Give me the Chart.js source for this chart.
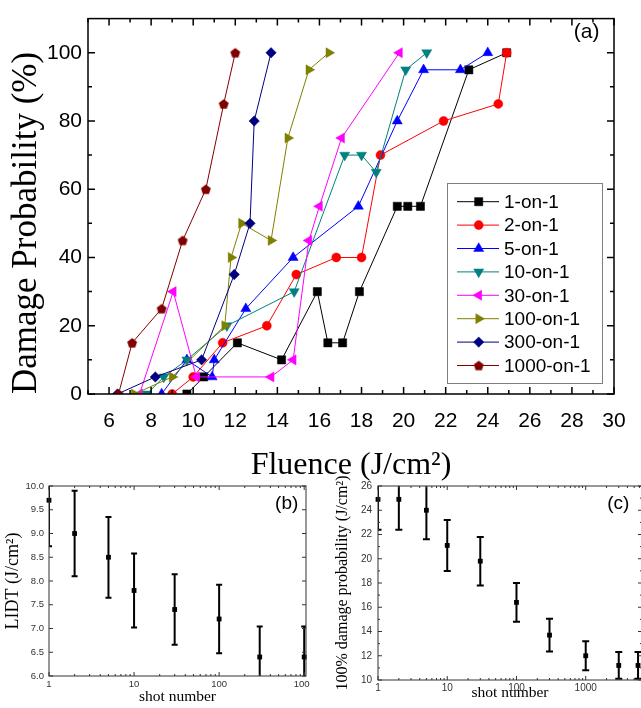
<!DOCTYPE html>
<html><head><meta charset="utf-8">
<script src="https://cdn.jsdelivr.net/npm/chart.js@4/dist/chart.umd.min.js"></script>
<style>
html,body{margin:0;padding:0;background:#fff;overflow:hidden;width:641px;height:708px;position:relative;}
canvas{position:absolute;}
</style></head><body>
<canvas id="ca" width="641" height="490" style="left:0px;top:0px"></canvas>
<canvas id="cb" width="310" height="238" style="left:0px;top:470px"></canvas>
<canvas id="cc" width="330" height="238" style="left:318px;top:470px"></canvas>
<script>
// ---------- DATA: panel (a) ----------
const seriesLabels = ['1-on-1','2-on-1','5-on-1','10-on-1','30-on-1','100-on-1','300-on-1','1000-on-1'];
const oneX = [9.7,10.5,12.1,14.2,15.9,16.4,17.1,17.9,19.7,20.2,20.8,23.1,24.9];
const oneY = [0,5,15,10,30,15,15,30,55,55,55,95,100];
const twoX = [9.0,10.0,11.4,13.5,14.9,16.8,18.0,18.9,21.9,24.5,24.9];
const twoY = [0,5,15,20,35,40,40,70,80,85,100];
const fiveX = [8.5,9.7,10.9,11.0,12.5,14.75,17.85,19.7,20.95,22.7,24.0];
const fiveY = [0,10,5,10,25,40,55,80,95,95,100];
const tenX = [7.8,8.6,9.7,11.6,14.8,17.2,18.0,18.7,20.1,21.1];
const tenY = [0,5,10,20,30,70,70,65,95,100];
const thirtyX = [7.45,9.05,10.15,13.7,14.75,15.5,16.0,17.05,19.8];
const thirtyY = [0,30,5,5,10,45,55,75,100];
const hundredX = [7.2,9.0,11.5,11.8,12.3,13.7,14.5,15.5,16.45];
const hundredY = [0,5,20,40,50,45,75,95,100];
const threeHX = [6.4,8.2,10.4,11.95,12.7,12.9,13.7];
const threeHY = [0,5,10,35,50,80,100];
const thousandX = [6.45,7.1,8.5,9.5,10.6,11.45,12.0];
const thousandY = [0,15,25,45,60,85,100];
const aXTicks = [6,8,10,12,14,16,18,20,22,24,26,28,30];
const aXMinor = [5,7,9,11,13,15,17,19,21,23,25,27,29];
const aYTicks = [0,20,40,60,80,100];
const aYMinor = [10,30,50,70,90];

// ---------- DATA: panel (b) ----------
const bShots = [1,2,5,10,30,100,300,1000];
const bLIDT  = [9.7,9.0,8.5,7.8,7.4,7.2,6.4,6.4];
const bErr   = [0.97,0.9,0.85,0.78,0.74,0.72,0.64,0.64];
const bXTicks = [1,10,100,1000];
const bYTicks = [6.0,6.5,7.0,7.5,8.0,8.5,9.0,9.5,10.0];

// ---------- DATA: panel (c) ----------
const cShots = [1,2,5,10,30,100,300,1000,3000,5700];
const cFull  = [24.9,24.9,24.0,21.1,19.8,16.4,13.7,12.0,11.2,11.2];
const cErr   = [2.5,2.5,2.4,2.1,2.0,1.6,1.35,1.2,1.1,1.1];
const cXTicks = [1,10,100,1000];
const cYTicks = [10,12,14,16,18,20,22,24,26];
const cYMinor = [11,13,15,17,19,21,23,25];
const logMinor = [2,3,4,5,6,7,8,9,20,30,40,50,60,70,80,90,200,300,400,500,600,700,800,900,2000,3000,4000,5000,6000];

// ---------- helpers ----------
const SANS = '"Liberation Sans", Arial, sans-serif';
const SERIF = '"Liberation Serif", "Times New Roman", serif';

function pentagonImage(r, color){
  const s = Math.ceil(2*r+3);
  const c = document.createElement('canvas'); c.width = s; c.height = s;
  const g = c.getContext('2d');
  g.fillStyle = color; g.beginPath();
  for (let k=0;k<5;k++){
    const a = -Math.PI/2 + k*2*Math.PI/5;
    const px = s/2 + r*Math.cos(a), py = s/2 + r*Math.sin(a) + r*0.1;
    if (k===0) g.moveTo(px,py); else g.lineTo(px,py);
  }
  g.closePath(); g.fill();
  return c;
}

function framePlugin(cfg){
  return {
    id: 'frame',
    afterDatasetsDraw(chart){
      const {ctx, chartArea:a, scales} = chart;
      const x = scales.x, y = scales.y;
      ctx.save();
      ctx.strokeStyle = cfg.color; ctx.lineWidth = cfg.width;
      ctx.beginPath();
      const doX = (vals,len)=>{ vals.forEach(v=>{ const p = x.getPixelForValue(v);
        if (p < a.left-0.5 || p > a.right+0.5) return;
        ctx.moveTo(p,a.bottom); ctx.lineTo(p,a.bottom-len);
        ctx.moveTo(p,a.top); ctx.lineTo(p,a.top+len); }); };
      const doY = (vals,len)=>{ vals.forEach(v=>{ const p = y.getPixelForValue(v);
        if (p < a.top-0.5 || p > a.bottom+0.5) return;
        ctx.moveTo(a.left,p); ctx.lineTo(a.left+len,p);
        ctx.moveTo(a.right,p); ctx.lineTo(a.right-len,p); }); };
      doX(cfg.xMajor, cfg.majorLen); doX(cfg.xMinor, cfg.minorLen);
      doY(cfg.yMajor, cfg.majorLen); doY(cfg.yMinor, cfg.minorLen);
      ctx.stroke();
      ctx.strokeRect(a.left, a.top, a.right-a.left, a.bottom-a.top);
      ctx.restore();
    }
  };
}

function labelPlugin(text, px, py, size){
  return { id:'panelLabel', afterDraw(chart){
    const ctx = chart.ctx; ctx.save();
    ctx.font = size+'px '+SANS; ctx.fillStyle = '#000';
    ctx.textAlign = 'center'; ctx.textBaseline = 'middle';
    ctx.fillText(text, px, py); ctx.restore();
  }};
}

function errPlugin(xs, ys, errs, capHalf, lw){
  return { id:'errbars', beforeDatasetsDraw(chart){
    const {ctx, chartArea:a, scales:{x,y}} = chart;
    ctx.save();
    ctx.beginPath(); ctx.rect(a.left, a.top, a.right-a.left, a.bottom-a.top); ctx.clip();
    ctx.strokeStyle = '#000'; ctx.lineWidth = lw;
    ctx.beginPath();
    xs.forEach((xv,k)=>{
      const px = x.getPixelForValue(xv);
      const pt = y.getPixelForValue(ys[k]+errs[k]);
      const pb = y.getPixelForValue(ys[k]-errs[k]);
      ctx.moveTo(px,pt); ctx.lineTo(px,pb);
      ctx.moveTo(px-capHalf,pt); ctx.lineTo(px+capHalf,pt);
      ctx.moveTo(px-capHalf,pb); ctx.lineTo(px+capHalf,pb);
    });
    ctx.stroke(); ctx.restore();
  }};
}

// ---------- panel (a) ----------
const colors = ['#000000','#ff0000','#0000ff','#008080','#ff00ff','#808000','#000080','#800000'];
const xsAll = [oneX,twoX,fiveX,tenX,thirtyX,hundredX,threeHX,thousandX];
const ysAll = [oneY,twoY,fiveY,tenY,thirtyY,hundredY,threeHY,thousandY];
const pent = pentagonImage(5.2, colors[7]);
const pStyles = ['rect','circle','triangle','triangle','triangle','triangle','rectRot',pent];
const pRot = [0,0,0,180,270,90,0,0];
const pRad = [5.8,4.5,5.8,5.8,5.8,5.8,5.2,5.2];

const datasetsA = seriesLabels.map((lab,i)=>({
  label: lab,
  data: xsAll[i].map((v,k)=>({x:v, y:ysAll[i][k]})),
  showLine: true,
  borderColor: colors[i], backgroundColor: colors[i],
  pointBorderColor: colors[i], pointBackgroundColor: colors[i],
  borderWidth: 1, pointBorderWidth: 0.5,
  pointStyle: pStyles[i], pointRotation: pRot[i], pointRadius: pRad[i],
  order: -i
}));

const legendPlugin = { id:'customLegend', afterDraw(chart){
  const ctx = chart.ctx; ctx.save();
  ctx.fillStyle = '#fff'; ctx.fillRect(447.5,183.5,155,200);
  ctx.strokeStyle = '#7f7f7f'; ctx.lineWidth = 1; ctx.strokeRect(447.5,183.5,155,200);
  chart.data.datasets.forEach((ds,i)=>{
    const yy = 201.7 + i*23.4;
    ctx.strokeStyle = ds.borderColor; ctx.lineWidth = 1;
    ctx.beginPath(); ctx.moveTo(457,yy); ctx.lineTo(499,yy); ctx.stroke();
    ctx.fillStyle = ds.backgroundColor; ctx.strokeStyle = ds.borderColor; ctx.lineWidth = 0.5;
    Chart.helpers.drawPoint(ctx, {pointStyle: ds.pointStyle, rotation: ds.pointRotation, radius: ds.pointRadius, borderWidth: 0.5}, 478.7, yy);
    ctx.fillStyle = '#000'; ctx.font = '19px '+SANS; ctx.textAlign = 'left'; ctx.textBaseline = 'middle';
    ctx.fillText(ds.label, 504, yy+1);
  });
  ctx.restore();
}};

new Chart(document.getElementById('ca'), {
  type: 'scatter',
  data: { datasets: datasetsA },
  options: {
    responsive: false, animation: false, devicePixelRatio: 1,
    layout: { padding: { left: 0, right: 27, top: 8, bottom: 0 } },
    plugins: { legend: {display:false}, tooltip: {enabled:false} },
    scales: {
      x: { type:'linear', min:5, max:30,
        afterBuildTicks: s => { s.ticks = aXTicks.map(v=>({value:v})); },
        afterFit: s => { s.height = 96; },
        grid: {display:false, drawTicks:false}, border: {display:false},
        ticks: { font:{family:SANS,size:21}, color:'#000', padding:15, maxRotation:0, autoSkip:false },
        title: { display:true, text:'Fluence (J/cm²)', color:'#000', font:{family:SERIF,size:32,lineHeight:1}, padding:{top:0,bottom:8} }
      },
      y: { type:'linear', min:0, max:110,
        afterBuildTicks: s => { s.ticks = aYTicks.map(v=>({value:v})); },
        afterFit: s => { s.width = 88; },
        grid: {display:false, drawTicks:false}, border: {display:false},
        ticks: { font:{family:SANS,size:21}, color:'#000', padding:6, autoSkip:false },
        title: { display:true, text:'Damage Probability (%)', align:'start', color:'#000', font:{family:SERIF,size:35,lineHeight:1}, padding:{top:9,bottom:0} }
      }
    }
  },
  plugins: [
    framePlugin({color:'#000', width:1.5, majorLen:7, minorLen:4, xMajor:aXTicks, xMinor:aXMinor, yMajor:aYTicks, yMinor:aYMinor}),
    legendPlugin,
    labelPlugin('(a)', 586.7, 32.7, 21)
  ]
});

// ---------- panel (b) ----------
new Chart(document.getElementById('cb'), {
  type: 'scatter',
  data: { datasets: [{ label:'LIDT', data: bShots.map((v,k)=>({x:v,y:bLIDT[k]})),
    pointStyle:'rect', pointRadius:3.4, backgroundColor:'#000', borderColor:'#000', pointBorderWidth:0, clip:false }] },
  options: {
    responsive:false, animation:false, devicePixelRatio:1,
    layout: { padding: { left:0, right:3, top:16, bottom:0 } },
    plugins: { legend:{display:false}, tooltip:{enabled:false} },
    scales: {
      x: { type:'logarithmic', min:1, max:1050,
        afterBuildTicks: s => { s.ticks = bXTicks.map(v=>({value:v})); },
        afterFit: s => { s.height = 32; s.paddingRight = 0; s.paddingLeft = 0; },
        grid:{display:false, drawTicks:false}, border:{display:false},
        ticks:{ font:{family:SANS,size:9.5}, color:'#333', padding:3, maxRotation:0, autoSkip:false, callback: v => String(v) },
        title:{ display:true, text:'shot number', color:'#000', font:{family:SERIF,size:15.5,lineHeight:1}, padding:{top:0,bottom:3} }
      },
      y: { type:'linear', min:6, max:10,
        afterBuildTicks: s => { s.ticks = bYTicks.map(v=>({value:v})); },
        afterFit: s => { s.width = 49; s.paddingTop = 0; s.paddingBottom = 0; },
        grid:{display:false, drawTicks:false}, border:{display:false},
        ticks:{ font:{family:SANS,size:9.5}, color:'#333', padding:5, autoSkip:false, callback: v => Number(v).toFixed(1) },
        title:{ display:true, text:'LIDT (J/cm²)', color:'#000', font:{family:SERIF,size:18,lineHeight:1}, padding:{top:4,bottom:0} }
      }
    }
  },
  plugins: [
    errPlugin(bShots, bLIDT, bErr, 3, 2),
    framePlugin({color:'#333', width:1, majorLen:4, minorLen:2, xMajor:bXTicks, xMinor:logMinor, yMajor:bYTicks, yMinor:[]}),
    labelPlugin('(b)', 286.7, 33.3, 19)
  ]
});

// ---------- panel (c) ----------
new Chart(document.getElementById('cc'), {
  type: 'scatter',
  data: { datasets: [{ label:'100%', data: cShots.map((v,k)=>({x:v,y:cFull[k]})),
    pointStyle:'rect', pointRadius:3.4, backgroundColor:'#000', borderColor:'#000', pointBorderWidth:0, clip:false }] },
  options: {
    responsive:false, animation:false, devicePixelRatio:1,
    layout: { padding: { left:0, right:6, top:16, bottom:0 } },
    plugins: { legend:{display:false}, tooltip:{enabled:false} },
    scales: {
      x: { type:'logarithmic', min:1, max:6500,
        afterBuildTicks: s => { s.ticks = cXTicks.map(v=>({value:v})); },
        afterFit: s => { s.height = 28; s.paddingRight = 0; s.paddingLeft = 0; },
        grid:{display:false, drawTicks:false}, border:{display:false},
        ticks:{ font:{family:SANS,size:10}, color:'#333', padding:2, maxRotation:0, autoSkip:false, callback: v => String(v) },
        title:{ display:true, text:'shot number', color:'#000', font:{family:SERIF,size:15.5,lineHeight:1}, padding:{top:0,bottom:7} }
      },
      y: { type:'linear', min:10, max:26,
        afterBuildTicks: s => { s.ticks = cYTicks.map(v=>({value:v})); },
        afterFit: s => { s.width = 60; s.paddingTop = 0; s.paddingBottom = 0; },
        grid:{display:false, drawTicks:false}, border:{display:false},
        ticks:{ font:{family:SANS,size:10}, color:'#333', padding:6, autoSkip:false },
        title:{ display:true, text:'100% damage probability (J/cm²)', color:'#000', font:{family:SERIF,size:16,lineHeight:1}, padding:{top:17,bottom:0} }
      }
    }
  },
  plugins: [
    errPlugin(cShots, cFull, cErr, 3.5, 2),
    framePlugin({color:'#333', width:1, majorLen:4, minorLen:2, xMajor:cXTicks, xMinor:logMinor, yMajor:cYTicks, yMinor:cYMinor}),
    labelPlugin('(c)', 300.3, 33.3, 19)
  ]
});
</script>
</body></html>
